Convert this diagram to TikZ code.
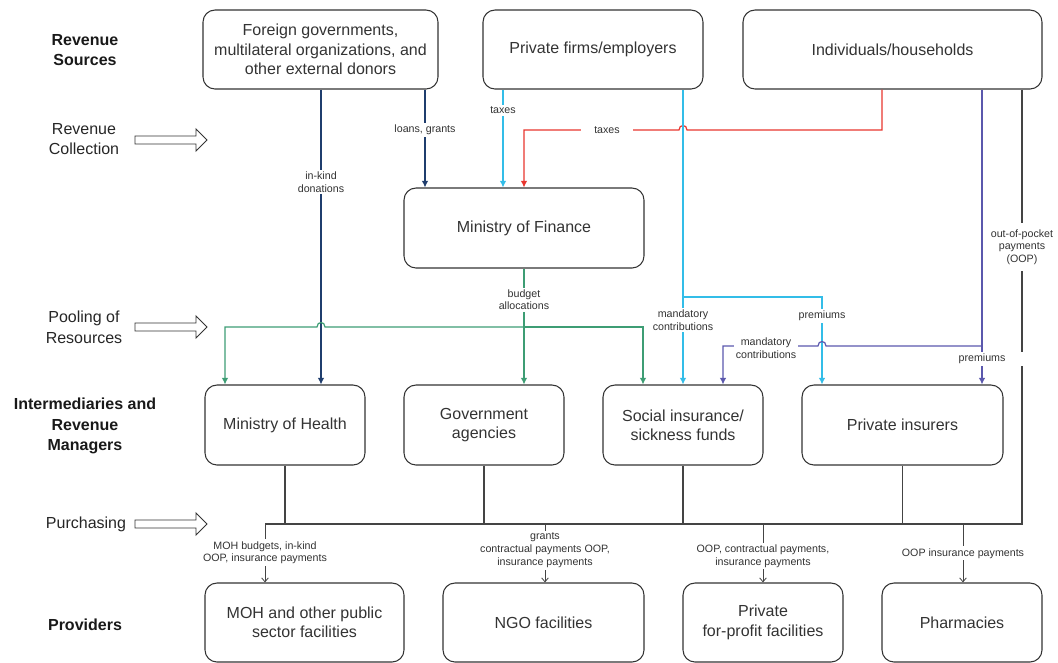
\documentclass[tikz,border=0pt]{standalone}
\usepackage{fontspec}
\setmainfont{Liberation Sans}
\usetikzlibrary{arrows.meta}
\definecolor{cnavy}{HTML}{1F3D6D}
\definecolor{ccyan}{HTML}{33BDE8}
\definecolor{cred}{HTML}{E8352E}
\definecolor{cgreen}{HTML}{3D9D74}
\definecolor{cpurple}{HTML}{5B58AD}
\definecolor{cdark}{HTML}{333333}
\definecolor{cline}{HTML}{444444}
\begin{document}
\begin{tikzpicture}[x=0.75pt,y=-0.75pt,
  box/.style={draw=cdark, line width=0.8pt, rounded corners=9pt, align=center, inner sep=2pt, text=cdark, font=\fontsize{12}{14.5}\selectfont},
  stage/.style={align=center, text=black!85, font=\fontsize{12}{15.5}\selectfont},
  stageb/.style={align=center, text=black!90, font=\bfseries\fontsize{12}{15.5}\selectfont},
  lab/.style={fill=white, inner sep=1.5pt, align=center, text=cdark, font=\fontsize{8}{9.5}\selectfont},
  flow/.style={line width=0.9pt, -{Latex[length=5pt,width=5pt]}},
  bus/.style={draw=cline, line width=0.8pt},
  drop/.style={draw=cline, line width=0.6pt, -{Straight Barb[length=3pt,width=5pt]}},
  hollow/.style={draw=cdark, line width=0.7pt, fill=white},
]
\useasboundingbox (0,0) rectangle (1058,662);

% ---- boxes ----
\node[box, minimum width=176.25pt, minimum height=59.25pt] (foreign) at (320.5,49.5) {Foreign governments,\\multilateral organizations, and\\other external donors};
\node[box, minimum width=165pt, minimum height=59.25pt] (firms) at (593,49.5) {Private firms/employers};
\node[box, minimum width=224.25pt, minimum height=59.25pt] (indiv) at (892.5,49.5) {Individuals/households};
\node[box, minimum width=180pt, minimum height=60pt] (mof) at (524,228) {Ministry of Finance};
\node[box, minimum width=120pt, minimum height=60pt] (moh) at (285,425) {Ministry of Health};
\node[box, minimum width=120pt, minimum height=60pt] (gov) at (484,425) {Government\\agencies};
\node[box, minimum width=120pt, minimum height=60pt] (social) at (683,425) {Social insurance/\\sickness funds};
\node[box, minimum width=150.75pt, minimum height=60pt] (privins) at (902.5,425) {Private insurers};
\node[box, minimum width=149.25pt, minimum height=59.25pt] (mohpub) at (304.5,622.5) {MOH and other public\\sector facilities};
\node[box, minimum width=150.75pt, minimum height=59.25pt] (ngo) at (543.5,622.5) {NGO facilities};
\node[box, minimum width=120pt, minimum height=59.25pt] (forprofit) at (763,622.5) {Private\\for-profit facilities};
\node[box, minimum width=120pt, minimum height=59.25pt] (pharm) at (962,622.5) {Pharmacies};

% ---- stage labels ----
\node[stageb] (sSources) at (85,50) {Revenue\\Sources};
\node[stage] (sColl) at (84,139) {Revenue\\Collection};
\node[stage] (sPool) at (84,327) {Pooling of\\Resources};
\node[stageb] (sInter) at (85,426) {Intermediaries and\\Revenue\\Managers};
\node[stage] (sPurch) at (86,524) {Purchasing};
\node[stageb] (sProv) at (85,625) {Providers};
\foreach \yy in {140,327,524}
  \draw[hollow] (135,\yy-4) -- (196,\yy-4) -- (196,\yy-11) -- (207,\yy) -- (196,\yy+11) -- (196,\yy+4) -- (135,\yy+4) -- cycle;

% ---- column coordinates ----
\coordinate (xA) at (321,0);
\coordinate (xB) at (425,0);
\coordinate (xC) at (503,0);
\coordinate (xD) at (524,0);
\coordinate (xE) at (683,0);
\coordinate (xF) at (822,0);
\coordinate (xG) at (882,0);
\coordinate (xH) at (982,0);
\coordinate (xI) at (1022,0);
\coordinate (xJ) at (225,0);
\coordinate (xK) at (643,0);
\coordinate (xL) at (723,0);
\coordinate (busL) at (265,524);
\coordinate (busR) at (1022,524);
\coordinate (dA) at (265,524);
\coordinate (dB) at (545,524);
\coordinate (dC) at (763,524);
\coordinate (dD) at (963,524);
\coordinate (jc) at (683,297);
\coordinate (jg) at (524,327);
\coordinate (jp) at (982,346);

% ---- revenue collection ----
\draw[flow, cnavy] (foreign.south -| xB) -- node[lab, pos=0.41] (lLoans) {loans, grants} (mof.north -| xB);
\draw[flow, ccyan] (firms.south -| xC) -- node[lab, pos=0.21] (lTax1) {taxes} (mof.north -| xC);
\draw[flow, cred] (indiv.south -| xG) -- (882,130) -- (687,130) .. controls (687,124) and (679,124) .. (679,130) -- (524,130) -- (mof.north -| xD);
\node[lab, inner xsep=10pt] (lTax2) at (607,130) {taxes};

% ---- pooling ----
\draw[flow, cnavy] (foreign.south -| xA) -- (moh.north -| xA);
\node[lab] (lInkind) at (321,182) {in-kind\\donations};
\draw[flow, cgreen] (mof.south) -- node[lab, pos=0.27] (lBudget) {budget\\allocations} (gov.north -| mof.south);
\draw[flow, cgreen] (jg) -- (325,327) .. controls (325,321) and (317,321) .. (317,327) -- (225,327) -- (moh.north -| xJ);
\draw[flow, cgreen] (jg) -- (643,327) -- (social.north -| xK);
\draw[flow, ccyan] (firms.south -| xE) -- (social.north -| xE);
\draw[flow, ccyan] (jc) -- (822,297) -- (privins.north -| xF);
\node[lab] (lMand1) at (683,320) {mandatory\\contributions};
\node[lab] (lPrem1) at (822,316) {premiums};
\draw[flow, cpurple] (indiv.south -| xH) -- (privins.north -| xH);
\draw[flow, cpurple] (jp) -- (826,346) .. controls (826,340) and (818,340) .. (818,346) -- (723,346) -- (social.north -| xL);
\node[lab] (lMand2) at (766,348) {mandatory\\contributions};

% ---- purchasing ----
\draw[bus] (indiv.south -| xI) -- (busR) -- (busL);
\node[lab, inner xsep=16pt] (lPrem2) at (982,359) {premiums};
\node[lab, inner xsep=6pt, inner ysep=5pt] (lOOP) at (1022,247) {out-of-pocket\\payments\\(OOP)};
\draw[bus] (moh.south) -- (moh.south |- busL);
\draw[bus] (gov.south) -- (gov.south |- busL);
\draw[bus] (social.south) -- (social.south |- busL);
\draw[bus] (privins.south) -- (privins.south |- busL);

\draw[drop] (dA) -- node[lab, pos=0.49] (lP1) {MOH budgets, in-kind\\OOP, insurance payments} (mohpub.north -| dA);
\draw[drop] (dB) -- node[lab, pos=0.45] (lP2) {grants\\contractual payments OOP,\\insurance payments} (ngo.north -| dB);
\draw[drop] (dC) -- node[lab, pos=0.55] (lP3) {OOP, contractual payments,\\insurance payments} (forprofit.north -| dC);
\draw[drop] (dD) -- node[lab, pos=0.5] (lP4) {OOP insurance payments} (pharm.north -| dD);
\end{tikzpicture}
\end{document}
